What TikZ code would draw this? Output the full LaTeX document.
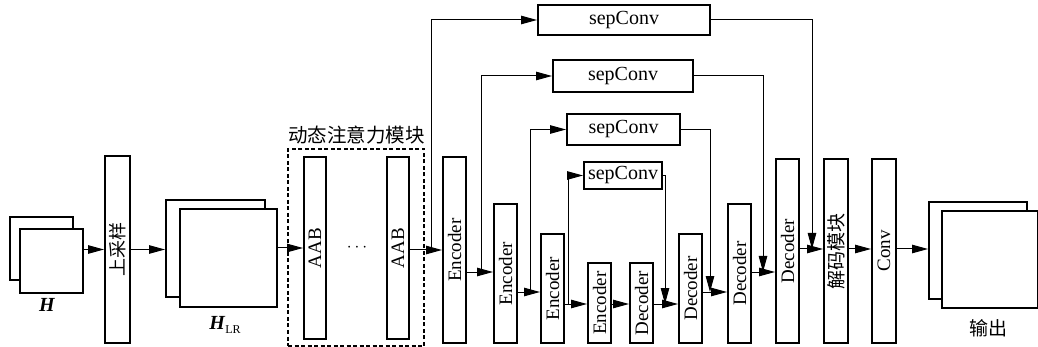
\documentclass[tikz,border=0pt]{standalone}
\usepackage{fontspec}
\setmainfont{Liberation Serif}
\newfontfamily\cjk{Noto Sans CJK SC}
\usetikzlibrary{arrows.meta}
\begin{document}
\begin{tikzpicture}[x=1pt,y=-1pt,
  box/.style={draw,line width=2pt,fill=white,inner sep=0pt,font=\fontsize{19}{19}\selectfont},
  sepbox/.style={box,font=\fontsize{20}{20}\selectfont},
  dashbox/.style={draw,line width=2pt,dash pattern=on 4pt off 2.5pt,inner sep=0pt},
  lbl/.style={inner sep=0pt,font=\fontsize{19}{19}\selectfont},
  arr/.style={line width=1pt,-{Triangle[length=16pt,width=8.5pt]}},
  ln/.style={line width=1pt}]
\useasboundingbox (0,0) rectangle (1038,347);
% levels
\coordinate (L0) at (0,249);
\coordinate (L1) at (0,250);
\coordinate (L2) at (0,272);
\coordinate (L3) at (0,292);
\coordinate (L4) at (0,304);
% input H
\node[box,minimum width=63pt,minimum height=63pt] (Hb) at (41.5,248.5) {};
\node[box,minimum width=63pt,minimum height=64pt] (Hf) at (51.5,261) {};
\node[lbl,font=\fontsize{20}{20}\selectfont\bfseries\itshape] (Hl) at (47,305) {H};
% upsampling
\node[box,minimum width=25pt,minimum height=187pt] (up) at (117.5,249.5) {\rotatebox{90}{\cjk\fontsize{18}{18}\selectfont 上采样}};
% H_LR
\node[box,minimum width=99pt,minimum height=97pt] (HLRb) at (215.5,248.5) {};
\node[box,minimum width=97pt,minimum height=98pt] (HLRf) at (228.5,258) {};
\node[lbl,font=\fontsize{20}{20}\selectfont] (HLRl) at (225,325) {\textbf{\textit{H}}\raisebox{-0.35ex}{\fontsize{12}{12}\selectfont LR}};
% dynamic attention module
\node[dashbox,minimum width=136pt,minimum height=197pt] (dyn) at (356,247.5) {};
\node[lbl,font=\cjk\fontsize{19.5}{19.5}\selectfont] (title) at (356.5,135) {动态注意力模块};
\node[box,minimum width=22pt,minimum height=182pt] (aab1) at (315,248) {\rotatebox{90}{AAB}};
\node[box,minimum width=22pt,minimum height=182pt] (aab2) at (398,248) {\rotatebox{90}{AAB}};
\node[lbl] (dots) at (357,248) {$\cdots$};
% encoders / decoders
\node[box,minimum width=23pt,minimum height=186pt] (enc1) at (454.5,250) {\rotatebox{90}{Encoder}};
\node[box,minimum width=23pt,minimum height=139pt] (enc2) at (505.5,273.5) {\rotatebox{90}{Encoder}};
\node[box,minimum width=23pt,minimum height=109pt] (enc3) at (552.5,288.5) {\rotatebox{90}{Encoder}};
\node[box,minimum width=23pt,minimum height=80pt] (enc4) at (599.5,303) {\rotatebox{90}{Encoder}};
\node[box,minimum width=23pt,minimum height=80pt] (dec1) at (641.5,303) {\rotatebox{90}{Decoder}};
\node[box,minimum width=23pt,minimum height=109pt] (dec2) at (690.5,288.5) {\rotatebox{90}{Decoder}};
\node[box,minimum width=23pt,minimum height=139pt] (dec3) at (739.5,273.5) {\rotatebox{90}{Decoder}};
\node[box,minimum width=23pt,minimum height=184pt] (dec4) at (787.5,251) {\rotatebox{90}{Decoder}};
\node[box,minimum width=24pt,minimum height=184pt] (jm) at (836,251) {\rotatebox{90}{\cjk\fontsize{19}{19}\selectfont 解码模块}};
\node[box,minimum width=24pt,minimum height=184pt] (conv) at (884,251) {\rotatebox{90}{Conv}};
% output
\node[box,minimum width=98pt,minimum height=97pt] (outb) at (978,250.5) {};
\node[box,minimum width=96pt,minimum height=97pt] (outf) at (990,259.5) {};
\node[lbl,font=\cjk\fontsize{19}{19}\selectfont] (outl) at (988,328) {输出};
% sepConv
\node[sepbox,minimum width=172pt,minimum height=30pt] (sep1) at (624,20) {sepConv};
\node[sepbox,minimum width=140pt,minimum height=32pt] (sep2) at (623,76) {sepConv};
\node[sepbox,minimum width=113pt,minimum height=31pt] (sep3) at (623.5,129.5) {sepConv};
\node[sepbox,minimum width=78pt,minimum height=27pt] (sep4) at (623,175.5) {sepConv};
% branch points
\coordinate (b1) at (431,250);
\coordinate (b2) at (481,272);
\coordinate (b3) at (530,292);
\coordinate (b4) at (568,304);
\coordinate (m4) at (665,304);
\coordinate (m3) at (710,292);
\coordinate (m2) at (763,272);
\coordinate (m1) at (812,249);
% main chain
\draw[arr] (Hf.east |- up.west) -- (up.west);
\draw[arr] (up.east) -- (HLRb.west |- up.east);
\draw[arr] (HLRf.east |- aab1.west) -- (aab1.west);
\draw[arr] (aab2.east |- L1) -- (enc1.west |- L1);
\draw[arr] (enc1.east |- L2) -- (enc2.west |- L2);
\draw[arr] (enc2.east |- L3) -- (enc3.west |- L3);
\draw[arr] (enc3.east |- L4) -- (enc4.west |- L4);
\draw[arr] (enc4.east |- L4) -- (dec1.west |- L4);
\draw[arr] (dec1.east |- L4) -- (dec2.west |- L4);
\draw[arr] (dec2.east |- L3) -- (dec3.west |- L3);
\draw[arr] (dec3.east |- L2) -- (dec4.west |- L2);
\draw[arr] (dec4.east |- L0) -- (jm.west |- L0);
\draw[arr] (jm.east |- L0) -- (conv.west |- L0);
\draw[arr] (conv.east |- L0) -- (outb.west |- L0);
% skip connections
\draw[arr] (b1) |- (sep1.west);
\draw[arr] (b2) |- (sep2.west);
\draw[arr] (b3) |- (sep3.west);
\draw[arr] (b4) |- (sep4.west);
\draw[arr] (sep1.east) -| (m1);
\draw[arr] (sep2.east) -| (m2);
\draw[arr] (sep3.east) -| (m3);
\draw[arr] (sep4.east) -| (m4);
\end{tikzpicture}
\end{document}
